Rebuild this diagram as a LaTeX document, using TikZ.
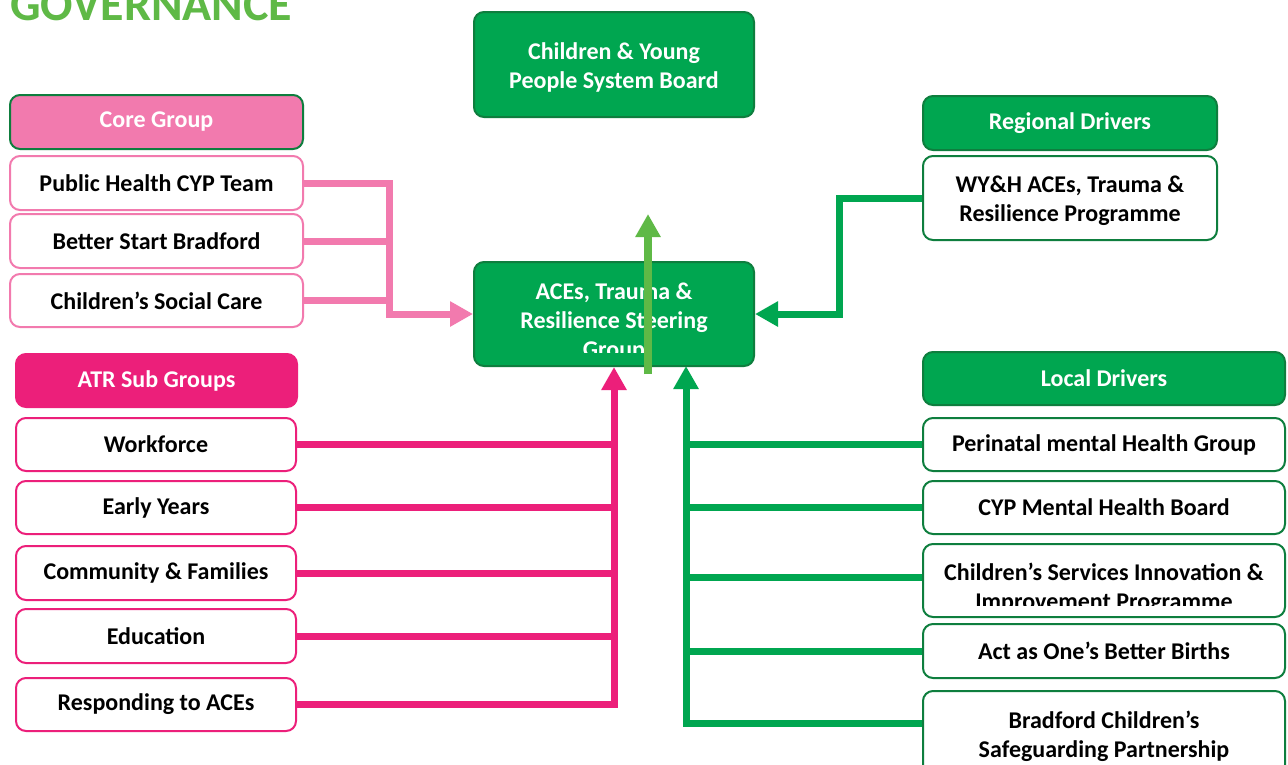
\documentclass[tikz,border=0pt]{standalone}
\usepackage{fontspec}
\setmainfont{Carlito}
\usetikzlibrary{arrows.meta}
\definecolor{grn}{HTML}{00A650}
\definecolor{dkgrn}{HTML}{0E7E3E}
\definecolor{pnk}{HTML}{F27AAE}
\definecolor{mgt}{HTML}{EC1F7A}
\definecolor{lgrn}{HTML}{5FB946}
\tikzset{
  box/.style={rounded corners=10pt, align=center, inner sep=0pt, line width=2pt,
    font=\fontsize{24}{29}\selectfont\bfseries},
  greenbox/.style={box, fill=grn, draw=dkgrn, text=white},
  pinkhead/.style={box, fill=pnk, draw=dkgrn, text=white},
  mghead/.style={box, fill=mgt, draw=mgt, text=white},
  pinkitem/.style={box, fill=white, draw=pnk, text=black},
  mgitem/.style={box, fill=white, draw=mgt, text=black},
  gritem/.style={box, fill=white, draw=dkgrn, text=black},
  txt/.style={align=center, inner sep=0pt, font=\fontsize{24}{29}\selectfont\bfseries},
  conn/.style={line width=7pt, line join=miter},
  pk/.style={conn, draw=pnk},
  mg/.style={conn, draw=mgt},
  gr/.style={conn, draw=grn},
  tip/.style={-{Triangle[length=23pt,width=24pt]}}
}
\begin{document}
\begin{tikzpicture}[x=1pt,y=-1pt]
\useasboundingbox (0,0) rectangle (1288,764);
\fill[white] (0,0) rectangle (1288,764);

% title
\node[anchor=base west, inner sep=0pt, text=lgrn, font=\fontsize{48}{50}\selectfont\bfseries] (title) at (10,20) {GOVERNANCE};

% top board
\node[greenbox, minimum width=280pt, minimum height=105pt] (board) at (614,64.5) {};
\node[txt, text=white] (boardtext) at (614,67) {Children \& Young\\People System Board};

% core group
\node[pinkhead, minimum width=293pt, minimum height=54pt] (core) at (156.5,122) {Core Group};
\node[pinkitem, minimum width=293pt, minimum height=54pt] (ph) at (156.5,183) {Public Health CYP Team};
\node[pinkitem, minimum width=293pt, minimum height=54pt] (bsb) at (156.5,241) {Better Start Bradford};
\node[pinkitem, minimum width=293pt, minimum height=53pt] (csc) at (156.5,300.5) {Children’s Social Care};

% ATR sub groups
\node[mghead, minimum width=281pt, minimum height=53pt] (atr) at (156.5,380.5) {ATR Sub Groups};
\node[mgitem, minimum width=280pt, minimum height=53pt] (wf) at (156,444.5) {Workforce};
\node[mgitem, minimum width=280pt, minimum height=53pt] (ey) at (156,507.5) {Early Years};
\node[mgitem, minimum width=280pt, minimum height=54pt] (cf) at (156,573) {Community \& Families};
\node[mgitem, minimum width=280pt, minimum height=54pt] (ed) at (156,636) {Education};
\node[mgitem, minimum width=280pt, minimum height=53pt] (resp) at (156,704.5) {Responding to ACEs};

% regional drivers
\node[greenbox, minimum width=294pt, minimum height=54pt] (reg) at (1070,123) {Regional Drivers};
\node[gritem, minimum width=294pt, minimum height=84pt] (wyh) at (1070,198) {};
\node[txt, text=black] (wyhtext) at (1070,200.5) {WY\&H ACEs, Trauma \&\\Resilience Programme};

% steering group (text clipped)
\node[greenbox, minimum width=280pt, minimum height=104pt] (steer) at (614,314) {};
\begin{scope}
  \clip (474,262) rectangle (754,352);
  \node[txt, text=white] (steertext) at (614,322) {ACEs, Trauma \&\\Resilience Steering\\Group};
\end{scope}

% local drivers
\node[greenbox, minimum width=362pt, minimum height=53pt] (local) at (1104,378.5) {Local Drivers};
\node[gritem, minimum width=362pt, minimum height=53pt] (peri) at (1104,444.5) {Perinatal mental Health Group};
\node[gritem, minimum width=362pt, minimum height=53pt] (cyp) at (1104,507.5) {CYP Mental Health Board};
\node[gritem, minimum width=362pt, minimum height=73pt] (csi) at (1104,580.5) {};
\begin{scope}
  \clip (923,544) rectangle (1285,605);
  \node[txt, text=black] (csitext) at (1104,588) {Children’s Services Innovation \&\\Improvement Programme};
\end{scope}
\node[gritem, minimum width=362pt, minimum height=54pt] (act) at (1104,651) {Act as One’s Better Births};
\node[gritem, minimum width=362pt, minimum height=84pt] (bcsp) at (1104,733) {};
\node[txt, text=black] (bcsptext) at (1104,736) {Bradford Children’s\\Safeguarding Partnership};

% pink connectors
\coordinate (pv) at (389,314);
\draw[pk] (bsb.east) -- (bsb.east -| pv);
\draw[pk] (csc.east) -- (csc.east -| pv);
\draw[pk,tip] (ph.east) -| (pv) -- (steer.west);

% magenta connectors
\draw[mg] (wf.east) -- (wf.east -| steer.south);
\draw[mg] (ey.east) -- (ey.east -| steer.south);
\draw[mg] (cf.east) -- (cf.east -| steer.south);
\draw[mg] (ed.east) -- (ed.east -| steer.south);
\draw[mg,tip] (resp.east) -| (steer.south);

% local green connectors
\coordinate (gtop) at (686,366);
\draw[gr] (peri.west) -- (peri.west -| gtop);
\draw[gr] (cyp.west) -- (cyp.west -| gtop);
\draw[gr] ([yshift=3.5pt]csi.west) -- ([yshift=3.5pt]csi.west -| gtop);
\draw[gr] (act.west) -- (act.west -| gtop);
\draw[gr,tip] ([yshift=10pt]bcsp.west) -| (gtop);

% regional connector
\coordinate (rv) at (839,314);
\draw[gr,tip] (wyh.west) -| (rv) -- (steer.east);

% light green upward arrow
\coordinate (lgs) at (648,374);
\coordinate (lge) at (648,214);
\draw[line width=8pt, draw=lgrn, tip] (lgs) -- (lge);
\end{tikzpicture}
\end{document}
